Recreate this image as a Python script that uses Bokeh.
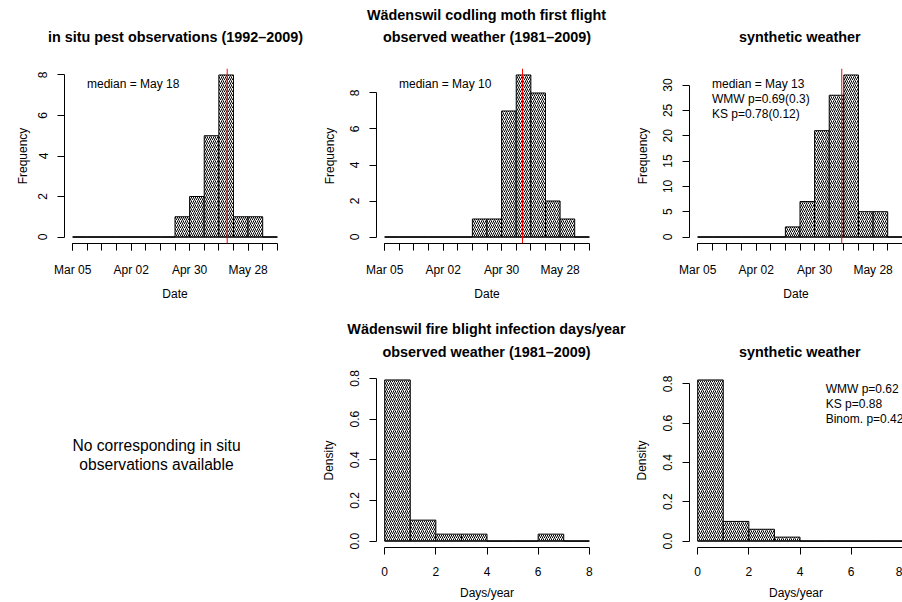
import pandas as pd
from bokeh.plotting import figure
from bokeh.layouts import column, row
from bokeh.models import Range1d, FixedTicker, DatetimeTickFormatter, Span, NumeralTickFormatter
from bokeh.core.properties import value
from bokeh.embed import file_html
from bokeh.resources import INLINE

FONT = "Liberation Sans"
YEAR = 2009

# ---------------- data ----------------
week_breaks = ["Mar 05", "Mar 12", "Mar 19", "Mar 26", "Apr 02", "Apr 09", "Apr 16", "Apr 23",
               "Apr 30", "May 07", "May 14", "May 21", "May 28", "Jun 04", "Jun 11"]
date_tick_labels = ["Mar 05", "Apr 02", "Apr 30", "May 28"]
insitu_counts = [0, 0, 0, 0, 0, 0, 0, 1, 2, 5, 8, 1, 1, 0]
observed_counts = [0, 0, 0, 0, 0, 0, 1, 1, 7, 9, 8, 2, 1, 0]
synthetic_counts = [0, 0, 0, 0, 0, 0, 2, 7, 21, 28, 32, 5, 5, 0]
median_dates = ["May 18", "May 10", "May 13"]
freq_ticks = [[0, 2, 4, 6, 8], [0, 2, 4, 6, 8], [0, 5, 10, 15, 20, 25, 30]]

days_breaks = [0, 1, 2, 3, 4, 5, 6, 7, 8]
days_ticks = [0, 2, 4, 6, 8]
observed_density = [0.793, 0.103, 0.034, 0.034, 0.0, 0.0, 0.034, 0.0]
synthetic_density = [0.82, 0.10, 0.06, 0.02, 0.0, 0.0, 0.0, 0.0]
density_ticks = [0.0, 0.2, 0.4, 0.6, 0.8]

top_super = "W\u00e4denswil codling moth first flight"
top_titles = ["in situ pest observations (1992\u20132009)", "observed weather (1981\u20132009)", "synthetic weather"]
bottom_super = "W\u00e4denswil fire blight infection days/year"
bottom_titles = ["observed weather (1981\u20132009)", "synthetic weather"]
top_notes = [["median = May 18"], ["median = May 10"],
             ["median = May 13", "WMW p=0.69(0.3)", "KS p=0.78(0.12)"]]
bottom_note = ["WMW p=0.62", "KS p=0.88", "Binom. p=0.42"]
no_obs_lines = ["No corresponding in situ", "observations available"]


def to_ms(labels):
    d = pd.to_datetime([f"{s} {YEAR}" for s in labels], format="%b %d %Y")
    return [float(x.value) / 1e6 for x in d]


breaks_ms = to_ms(week_breaks)
label_ms = to_ms(date_tick_labels)
median_ms = to_ms(median_dates)

PAGE_W = 902


def style(p, ylab_standoff):
    p.xgrid.visible = False
    p.ygrid.visible = False
    p.outline_line_color = None
    for ax in list(p.xaxis) + list(p.yaxis):
        ax.axis_line_color = "black"
        ax.axis_line_width = 1
        ax.major_tick_line_color = "black"
        ax.minor_tick_line_color = "black"
        ax.major_tick_in = 0
        ax.major_tick_out = 7
        ax.minor_tick_in = 0
        ax.minor_tick_out = 0
        ax.major_label_text_font = FONT
        ax.major_label_text_font_size = "12px"
        ax.major_label_text_color = "black"
        ax.axis_label_text_font = FONT
        ax.axis_label_text_font_size = "12px"
        ax.axis_label_text_font_style = "normal"
        ax.axis_label_text_color = "black"
    for ax in p.yaxis:
        ax.major_label_orientation = "vertical"
        ax.major_label_standoff = 10
        ax.axis_label_standoff = ylab_standoff
    for ax in p.xaxis:
        ax.major_label_standoff = 12
        ax.axis_label_standoff = 7


def hist(p, edges, vals):
    p.quad(left=edges[:-1], right=edges[1:], bottom=0, top=vals,
           fill_color="white", line_color="black", line_width=1,
           hatch_pattern="/", hatch_color="black", hatch_scale=4, hatch_weight=1)
    p.line(x=[edges[0], edges[-1]], y=[0, 0], line_color="black", line_width=1)


def notes(p, x0, ytop, lines, dx, dy0=15.3, step=15.3, size="12px"):
    n = len(lines)
    p.text(x=[x0] * n, y=[ytop] * n, text=lines, x_offset=dx,
           y_offset=[dy0 + step * i for i in range(n)],
           text_font=value(FONT), text_font_size=size, text_color="black",
           text_align="left", text_baseline="middle")


def title_strip(height, texts, xs, ys):
    """A full-width strip holding bold titles (positions in strip pixels, y from top)."""
    s = figure(width=PAGE_W, height=height, output_backend="svg", toolbar_location=None,
               x_range=Range1d(0, PAGE_W), y_range=Range1d(height, 0), min_border=0,
               x_axis_location=None, y_axis_location=None)
    s.xgrid.visible = False
    s.ygrid.visible = False
    s.outline_line_color = None
    s.text(x=xs, y=ys, text=texts, text_font=value(FONT), text_font_size="14.4px",
           text_font_style="bold", text_color="black", text_align="center", text_baseline="middle")
    return s


FULL_FW = 221

# ---------------- top titles ----------------
STRIP1_H = 52
strip1 = title_strip(STRIP1_H, [top_super] + top_titles,
                     [486, 175, 486.5, 799.3], [14, 36.7, 36.7, 36.7])

# ---------------- top row ----------------
TOP_H, TOP_MT, TOP_FH = 266, 16, 175
span_days = (breaks_ms[-1] - breaks_ms[0])
x_pad = 0.04 * span_days
top_specs = [
    dict(w=312, left=64, counts=insitu_counts, fw=221, ylab=6),
    dict(w=312, left=64, counts=observed_counts, fw=221, ylab=11),
    dict(w=278, left=65, counts=synthetic_counts, fw=213, ylab=11),
]
top_figs = []
for i, s in enumerate(top_specs):
    ymax = max(s["counts"])
    x0 = breaks_ms[0] - x_pad
    x1 = x0 + (span_days + 2 * x_pad) * s["fw"] / FULL_FW
    p = figure(width=s["w"], height=TOP_H, output_backend="svg", toolbar_location=None,
               x_axis_type="datetime",
               x_range=Range1d(x0, x1), y_range=Range1d(-0.04 * ymax, 1.04 * ymax),
               min_border_left=s["left"], min_border_right=s["w"] - s["left"] - s["fw"],
               min_border_top=TOP_MT, min_border_bottom=TOP_H - TOP_MT - TOP_FH)
    hist(p, breaks_ms, s["counts"])
    p.add_layout(Span(location=median_ms[i], dimension="height", line_color="#ff0000", line_width=1))
    notes(p, x0, 1.04 * ymax, top_notes[i], 22.5)
    p.xaxis.ticker = FixedTicker(ticks=label_ms, minor_ticks=breaks_ms)
    p.xaxis.formatter = DatetimeTickFormatter(days="%b %d", months="%b %d", years="%b %d")
    p.xaxis.bounds = (breaks_ms[0], breaks_ms[-1])
    p.yaxis.ticker = FixedTicker(ticks=freq_ticks[i])
    p.yaxis.bounds = (freq_ticks[i][0], freq_ticks[i][-1])
    p.xaxis.axis_label = "Date"
    p.yaxis.axis_label = "Frequency"
    style(p, s["ylab"])
    p.xaxis.minor_tick_out = 7
    top_figs.append(p)

# ---------------- bottom titles ----------------
STRIP2_H = 44
strip2 = title_strip(STRIP2_H, [bottom_super] + bottom_titles,
                     [486, 486, 799.3], [10, 33.7, 33.7])

# ---------------- bottom row ----------------
BOT_H, BOT_MT, BOT_FH = 240, 11, 176
f4 = figure(width=312, height=BOT_H, output_backend="svg", toolbar_location=None,
            x_range=Range1d(0, 1), y_range=Range1d(0, 1), min_border=0,
            x_axis_location=None, y_axis_location=None)
f4.xgrid.visible = False
f4.ygrid.visible = False
f4.outline_line_color = None
f4.text(x=[0.5, 0.5], y=[1, 1], text=no_obs_lines, y_offset=[72, 90.7],
        text_font=value(FONT), text_font_size="15.6px", text_color="black",
        text_align="center", text_baseline="middle")

bot_specs = [
    dict(w=312, left=64, dens=observed_density, fw=221),
    dict(w=278, left=65, dens=synthetic_density, fw=213),
]
bot_figs = [f4]
dspan = days_breaks[-1] - days_breaks[0]
for i, s in enumerate(bot_specs):
    ymax = max(s["dens"])
    x0 = days_breaks[0] - 0.04 * dspan
    x1 = x0 + 1.08 * dspan * s["fw"] / FULL_FW
    p = figure(width=s["w"], height=BOT_H, output_backend="svg", toolbar_location=None,
               x_range=Range1d(x0, x1), y_range=Range1d(-0.04 * ymax, 1.04 * ymax),
               min_border_left=s["left"], min_border_right=s["w"] - s["left"] - s["fw"],
               min_border_top=BOT_MT, min_border_bottom=BOT_H - BOT_MT - BOT_FH)
    hist(p, days_breaks, s["dens"])
    if i == 1:
        notes(p, x0, 1.04 * ymax, bottom_note, 136.2)
    p.xaxis.ticker = FixedTicker(ticks=days_ticks)
    p.xaxis.bounds = (days_ticks[0], days_ticks[-1])
    p.yaxis.ticker = FixedTicker(ticks=density_ticks)
    p.yaxis.formatter = NumeralTickFormatter(format="0.0")
    p.yaxis.bounds = (density_ticks[0], density_ticks[-1])
    p.xaxis.axis_label = "Days/year"
    p.yaxis.axis_label = "Density"
    style(p, 12)
    bot_figs.append(p)

layout = column(strip1, row(*top_figs, spacing=0), strip2, row(*bot_figs, spacing=0), spacing=0)
open("out.html", "w").write(file_html(layout, INLINE))
